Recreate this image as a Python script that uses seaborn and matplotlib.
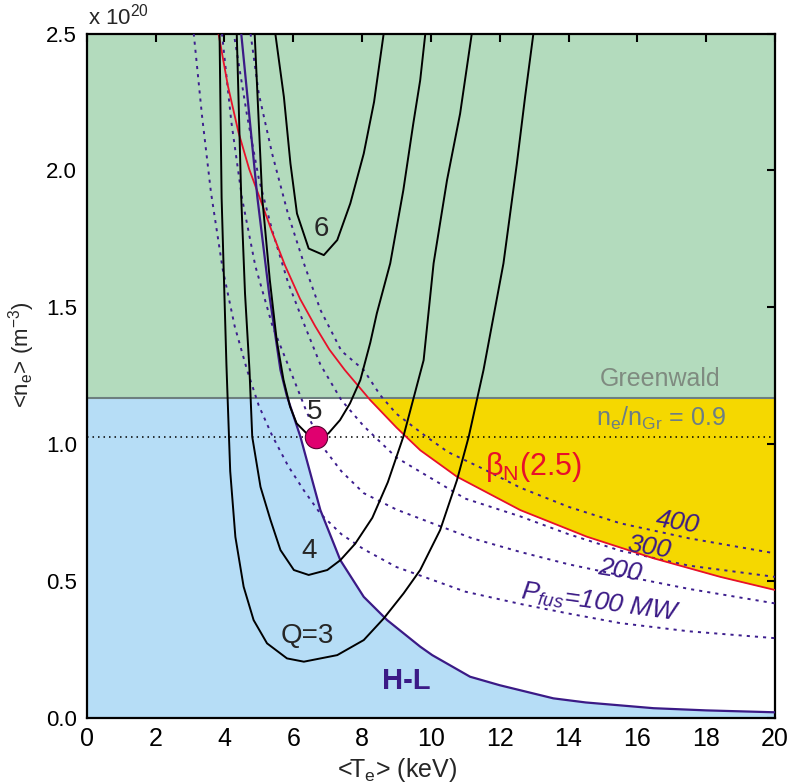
import numpy as np
import pandas as pd
import matplotlib
matplotlib.use("Agg")
import matplotlib.pyplot as plt
import seaborn as sns
from matplotlib import font_manager as fm

# ---------------- data ----------------
n_greenwald = 1.167          # x1e20 m^-3
n_gr09 = 1.026
op_point_T, op_point_n = [6.67], [1.026]

q3_T = [3.86, 3.92, 4.06, 4.17, 4.32, 4.56, 4.85, 5.24, 5.82, 6.31, 7.28, 8.05, 8.63, 9.21, 9.69, 10.27, 10.76, 11.10, 11.53, 12.11, 12.50, 12.74, 12.98]
q3_n = [2.50, 1.90, 1.29, 0.90, 0.66, 0.478, 0.356, 0.271, 0.216, 0.204, 0.228, 0.283, 0.362, 0.454, 0.539, 0.685, 0.868, 1.026, 1.27, 1.66, 2.025, 2.27, 2.50]

q4_T = [4.36, 4.49, 4.60, 4.73, 4.81, 5.05, 5.34, 5.63, 6.02, 6.45, 6.99, 7.37, 7.80, 8.30, 8.75, 9.20, 9.79, 10.08, 10.47, 10.85, 11.19]
q4_n = [2.50, 1.90, 1.55, 1.27, 1.026, 0.843, 0.722, 0.612, 0.539, 0.521, 0.539, 0.575, 0.635, 0.73, 0.86, 1.026, 1.306, 1.66, 1.964, 2.207, 2.50]

q5_T = [4.88, 5.10, 5.32, 5.52, 5.72, 5.91, 6.10, 6.44, 6.67, 7.02, 7.36, 7.65, 7.95, 8.24, 8.43, 8.82, 9.20, 9.49, 9.69, 9.84]
q5_n = [2.50, 1.90, 1.60, 1.38, 1.233, 1.136, 1.075, 1.032, 1.022, 1.038, 1.087, 1.148, 1.233, 1.37, 1.477, 1.66, 1.927, 2.171, 2.329, 2.50]

q6_T = [5.48, 5.73, 5.92, 6.11, 6.45, 6.89, 7.28, 7.66, 8.05, 8.35, 8.63]
q6_n = [2.50, 2.268, 2.025, 1.842, 1.714, 1.69, 1.745, 1.879, 2.061, 2.25, 2.50]

hl_T = [4.49, 4.96, 5.30, 5.63, 5.81, 6.21, 6.79, 7.37, 8.05, 8.73, 9.69, 10.04, 11.14, 12.0, 13.56, 14.5, 16.47, 18.0, 20.0]
hl_n = [2.50, 1.90, 1.55, 1.27, 1.178, 1.026, 0.758, 0.575, 0.441, 0.356, 0.259, 0.228, 0.149, 0.118, 0.070, 0.055, 0.034, 0.026, 0.019]

beta_T = [3.83, 4.10, 4.41, 4.72, 5.04, 5.40, 5.76, 6.20, 6.64, 7.05, 7.50, 8.24, 9.00, 9.69, 10.76, 12.60, 14.53, 16.47, 18.41, 20.0]
beta_n = [2.50, 2.31, 2.139, 2.005, 1.895, 1.77, 1.653, 1.53, 1.43, 1.345, 1.27, 1.16, 1.06, 0.977, 0.88, 0.758, 0.661, 0.582, 0.514, 0.466]

p100_T = [3.11, 3.35, 3.61, 3.95, 4.30, 4.66, 5.00, 5.39, 5.85, 6.31, 6.79, 7.40, 8.05, 9.00, 10.0, 11.0, 12.6, 14.0, 15.5, 17.5, 20.0]
p100_n = [2.50, 2.20, 1.92, 1.64, 1.43, 1.27, 1.14, 1.03, 0.92, 0.83, 0.745, 0.67, 0.615, 0.55, 0.505, 0.46, 0.415, 0.38, 0.345, 0.315, 0.29]

p200_T = [3.93, 4.20, 4.51, 4.90, 5.40, 5.91, 6.35, 6.79, 7.40, 8.05, 9.00, 10.04, 11.2, 12.6, 14.0, 15.5, 17.5, 20.0]
p200_n = [2.50, 2.18, 1.90, 1.65, 1.43, 1.27, 1.13, 1.00, 0.90, 0.82, 0.76, 0.71, 0.655, 0.605, 0.56, 0.52, 0.47, 0.417]

p300_T = [4.30, 4.66, 5.00, 5.39, 5.85, 6.31, 6.79, 7.40, 8.05, 9.00, 10.0, 11.0, 12.6, 14.0, 15.5, 17.5, 20.0]
p300_n = [2.48, 2.20, 1.97, 1.78, 1.59, 1.44, 1.29, 1.16, 1.065, 0.95, 0.875, 0.80, 0.735, 0.67, 0.61, 0.555, 0.514]

p400_T = [4.76, 5.00, 5.39, 5.85, 6.31, 6.79, 7.40, 8.05, 8.53, 9.00, 9.83, 10.5, 11.5, 12.6, 14.0, 15.5, 17.5, 20.0]
p400_n = [2.50, 2.28, 2.06, 1.84, 1.66, 1.49, 1.34, 1.27, 1.178, 1.11, 1.03, 0.97, 0.91, 0.84, 0.77, 0.71, 0.655, 0.60]

x_ticks = [0, 2, 4, 6, 8, 10, 12, 14, 16, 18, 20]
y_ticks = [0.0, 0.5, 1.0, 1.5, 2.0, 2.5]

# ---------------- styling ----------------
sns.set_theme(style="white")
avail = {f.name for f in fm.fontManager.ttflist}
base = "Liberation Sans" if "Liberation Sans" in avail else "DejaVu Sans"
narrow = "Liberation Sans Narrow" if "Liberation Sans Narrow" in avail else base
plt.rcParams['font.family'] = [base, 'DejaVu Sans']
plt.rcParams['mathtext.fontset'] = 'custom'
plt.rcParams['mathtext.rm'] = base
plt.rcParams['mathtext.it'] = base + ':italic'

GREEN = "#b3dbbd"
BLUE = "#b6ddf6"
YELLOW = "#f5d800"
RED = "#e8102a"
PURPLE = "#3b1a86"
DPURP = "#3d1e8e"
GRAYL = "#6d7f7f"

fig = plt.figure(figsize=(7.89, 7.84), dpi=100)
ax = fig.add_axes([86.7/789, 1-717.5/784, (775-86.7)/789, (717.5-33.5)/784])

grid = np.linspace(0, 20, 801)
# regions
ax.fill_between(grid, n_greenwald, 2.5, color=GREEN, lw=0, zorder=0)
hl_grid = np.interp(grid, hl_T, hl_n, left=10.0)
ax.fill_between(grid, 0, np.minimum(hl_grid, n_greenwald), color=BLUE, lw=0, zorder=0)
bt_grid = np.interp(grid, beta_T, beta_n, left=10.0)
ax.fill_between(grid, bt_grid, n_greenwald, where=bt_grid < n_greenwald, color=YELLOW, lw=0, zorder=0, interpolate=True)

# Greenwald and 0.9 lines
ax.axhline(n_greenwald, color=GRAYL, lw=1.5, zorder=2)
ax.axhline(n_gr09, color="black", lw=1.1, ls=(0, (1, 2.6)), zorder=2)

def curve(T, n, **kw):
    df = pd.DataFrame({"T": T, "n": n})
    sns.lineplot(data=df, x="T", y="n", sort=False, estimator=None, ax=ax, **kw)

for T, n in [(p100_T, p100_n), (p200_T, p200_n), (p300_T, p300_n), (p400_T, p400_n)]:
    curve(T, n, color=DPURP, lw=1.4, linestyle=(0, (1.6, 2.6)), zorder=3)

curve(beta_T, beta_n, color=RED, lw=1.3, zorder=4)
curve(hl_T, hl_n, color=PURPLE, lw=1.6, zorder=4)
for T, n in [(q3_T, q3_n), (q4_T, q4_n), (q5_T, q5_n), (q6_T, q6_n)]:
    curve(T, n, color="black", lw=1.4, zorder=5)

sns.scatterplot(x=op_point_T, y=op_point_n, s=260, color="#e0006f", edgecolor="#5a0030", linewidth=0.8, ax=ax, zorder=6)

# labels
ax.text(6.81, 1.785, "6", fontsize=20, ha="center", va="center", zorder=7)
ax.text(6.63, 1.117, "5", fontsize=20, ha="center", va="center", zorder=7)
ax.text(6.45, 0.608, "4", fontsize=20, ha="center", va="center", zorder=7)
ax.text(6.42, 0.298, "Q=3", fontsize=20, ha="center", va="center", zorder=7)
ax.text(9.28, 0.133, "H-L", fontsize=21, fontweight="bold", color=PURPLE, ha="center", va="center", zorder=7)
ax.text(16.65, 1.237, "Greenwald", fontsize=18, color="#7f8b80", ha="center", va="center", zorder=7)
ax.text(16.68, 1.094, r"n$_\mathregular{e}$/n$_\mathregular{Gr}$ = 0.9", fontsize=18, color="#6c7e85", ha="center", va="center", zorder=7)
ax.text(12.98, 0.915, r"β$_\mathregular{N}$(2.5)", fontsize=22, color=RED, ha="center", va="center", zorder=7)
ax.text(17.16, 0.714, "400", fontsize=19, style="italic", color=PURPLE, rotation=-9, ha="center", va="center", zorder=7)
ax.text(16.33, 0.622, "300", fontsize=19, style="italic", color=PURPLE, rotation=-9, ha="center", va="center", zorder=7)
ax.text(15.5, 0.536, "200", fontsize=19, style="italic", color=PURPLE, rotation=-9, ha="center", va="center", zorder=7)
ax.text(14.92, 0.418, r"P$_\mathregular{fus}$=100 MW", fontsize=19, style="italic", color=PURPLE, rotation=-8, ha="center", va="center", zorder=7)

ax.set_xlim(0, 20)
ax.set_ylim(0, 2.5)
ax.set_xticks(x_ticks)
ax.set_yticks(y_ticks)
ax.set_xticklabels([str(v) for v in x_ticks], fontsize=18, family=narrow)
ax.set_yticklabels([f"{v:.1f}" for v in y_ticks], fontsize=16)
ax.tick_params(direction="in", length=6, width=1.5, top=True, right=True, pad=7, colors="black")
for s in ax.spines.values():
    s.set_linewidth(1.6)
    s.set_color("black")
ax.set_xlabel(r"<T$_\mathregular{e}$> (keV)", fontsize=18, family=narrow)
ax.set_ylabel(r"<n$_\mathregular{e}$> (m$^\mathregular{-3}$)", fontsize=16)
ax.xaxis.set_label_coords(0.451, -0.056)
ax.yaxis.set_label_coords(-0.072, 0.53)
fig.text(88/789, 1-25/784, r"x 10$^\mathregular{20}$", fontsize=16, ha="left", va="baseline")

fig.savefig("out.png", dpi=100)
